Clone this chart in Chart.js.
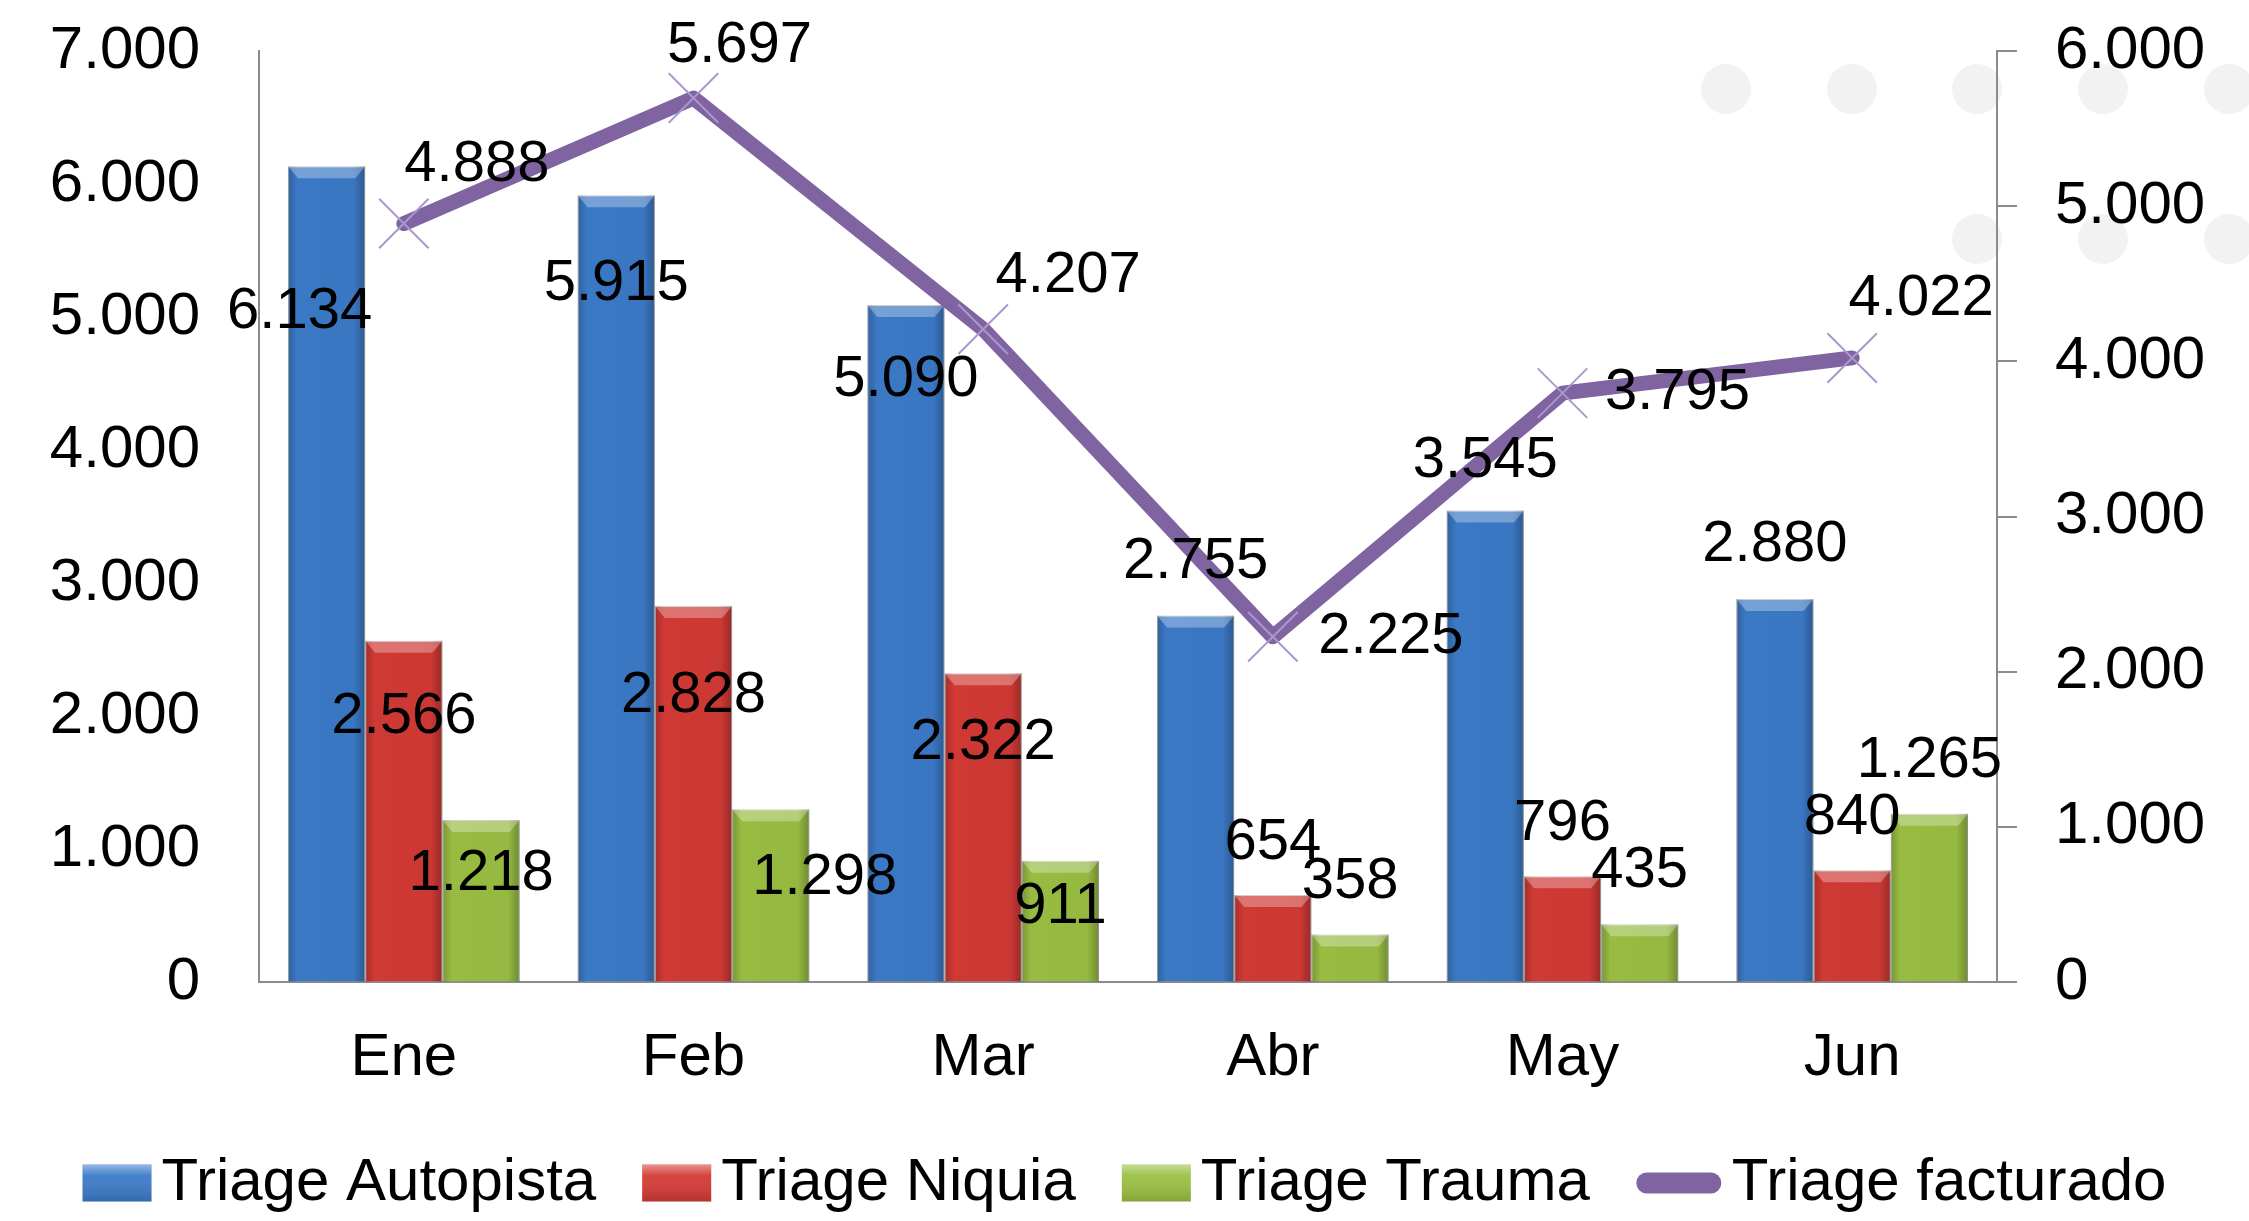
<!DOCTYPE html>
<html>
<head>
<meta charset="utf-8">
<script src="https://cdn.jsdelivr.net/npm/chart.js@4.4.0/dist/chart.umd.min.js"></script>
<style>
  body{margin:0;background:#fff;}
  #wrap{width:2249px;height:1221px;position:relative;}
</style>
</head>
<body>
<div id="wrap"><canvas id="chartCanvas"></canvas></div>
<script>
//data
const months=['Ene','Feb','Mar','Abr','May','Jun'];
const autopista=[6134,5915,5090,2755,3545,2880];
const niquia=[2566,2828,2322,654,796,840];
const trauma=[1218,1298,911,358,435,1265];
const facturado=[4888,5697,4207,2225,3795,4022];

const FONT="'Liberation Sans', Arial, sans-serif";

//number format 1.234
function fmt(v){
    return String(v).replace(/\B(?=(\d{3})+(?!\d))/g,'.');
}

//label offsets from the mark (px), per dataset
const labelShift=[
    [[-27,146],[0,89],[0,75],[0,-54],[0,-50],[0,-54]],
    [[0,76],[0,90],[0,70],[0,-52],[0,-52],[0,-52]],
    [[0,54],[54,69],[0,46],[0,-52],[0,-53],[0,-53]],
    [[73,-59],[46,-52],[85,-53],[118,0],[115,0],[69,-59]]
];

//faint dots in the background (decoration)
const bgDots={
    id:'bgDots',
    beforeDraw(chart){
        const ctx=chart.ctx;
        ctx.save();
        ctx.fillStyle='#f2f2f2';
        const pts=[[1726,89],[1852,89],[1977,89],[2103,89],[2229,89],[1977,239],[2103,239],[2229,239]];
        pts.forEach(p=>{
            ctx.beginPath();
            ctx.ellipse(p[0],p[1],25,25,0,0,Math.PI*2);
            ctx.fill();
        });
        ctx.restore();
    }
};

//shading on the bars
const barShade={
    id:'barShade',
    afterDatasetDraw(chart,args){
        const meta=args.meta;
        if(meta.type!=='bar')return;
        const ctx=chart.ctx;
        ctx.save();
        meta.data.forEach(el=>{
            const p=el.getProps(['x','y','base','width'],true);
            const l=p.x-p.width/2, r=p.x+p.width/2;
            const g=ctx.createLinearGradient(l,0,r,0);
            g.addColorStop(0,'rgba(0,0,0,0.22)');
            g.addColorStop(0.12,'rgba(0,0,0,0.02)');
            g.addColorStop(0.85,'rgba(0,0,0,0.04)');
            g.addColorStop(1,'rgba(0,0,0,0.28)');
            ctx.fillStyle=g;
            ctx.fillRect(l,p.y,p.width,p.base-p.y);
            //top bevel
            const h=Math.min(12,(p.base-p.y)/2);
            ctx.fillStyle='rgba(255,255,255,0.3)';
            ctx.beginPath();
            ctx.moveTo(l,p.y);
            ctx.lineTo(r,p.y);
            ctx.lineTo(r-10,p.y+h);
            ctx.lineTo(l+10,p.y+h);
            ctx.closePath();
            ctx.fill();
        });
        ctx.restore();
    }
};

//value labels
const valueLabels={
    id:'valueLabels',
    afterDatasetsDraw(chart){
        const ctx=chart.ctx;
        ctx.save();
        ctx.font='58px '+FONT;
        ctx.fillStyle='#000';
        ctx.textAlign='center';
        ctx.textBaseline='middle';
        chart.data.datasets.forEach((ds,di)=>{
            const meta=chart.getDatasetMeta(di);
            meta.data.forEach((el,i)=>{
                const s=labelShift[di][i];
                ctx.fillText(fmt(ds.data[i]),el.x+s[0],el.y+s[1]);
            });
        });
        ctx.restore();
    }
};

//legend drawn by hand
const bottomLegend={
    id:'bottomLegend',
    afterDraw(chart){
        const ctx=chart.ctx;
        ctx.save();
        ctx.font='60px '+FONT;
        ctx.textBaseline='middle';
        const boxW=69, boxH=37, gap=10, space=46;
        const items=chart.data.datasets.map(ds=>({
            text:ds.label,
            color:ds.legendColor,
            line:ds.type==='line',
            w:(ds.type==='line'?86:boxW)+gap+ctx.measureText(ds.label).width
        }));
        let total=items.reduce((a,b)=>a+b.w,0)+space*(items.length-1);
        let x=(chart.width-total)/2;
        const cy=1183;
        items.forEach(it=>{
            if(it.line){
                ctx.strokeStyle=it.color;
                ctx.lineWidth=21;
                ctx.lineCap='round';
                ctx.beginPath();
                ctx.moveTo(x+11,cy);
                ctx.lineTo(x+75,cy);
                ctx.stroke();
                x+=86;
            }else{
                const g=ctx.createLinearGradient(0,cy-boxH/2,0,cy+boxH/2);
                g.addColorStop(0,'rgba(255,255,255,0.45)');
                g.addColorStop(0.3,'rgba(255,255,255,0.05)');
                g.addColorStop(1,'rgba(0,0,0,0.15)');
                ctx.fillStyle=it.color;
                ctx.fillRect(x,cy-boxH/2,boxW,boxH);
                ctx.fillStyle=g;
                ctx.fillRect(x,cy-boxH/2,boxW,boxH);
                x+=boxW;
            }
            x+=gap;
            ctx.fillStyle='#000';
            ctx.textAlign='left';
            ctx.fillText(it.text,x,cy);
            x+=ctx.measureText(it.text).width+space;
        });
        ctx.restore();
    }
};

const data={
    labels:months,
    datasets:[
        {type:'bar',label:'Triage Autopista',data:autopista,backgroundColor:'#3c7bc9',legendColor:'#3c7bc9',borderColor:'rgba(90,90,90,0.35)',borderWidth:1,yAxisID:'y',order:1},
        {type:'bar',label:'Triage Niquia',data:niquia,backgroundColor:'#d43a35',legendColor:'#d43a35',borderColor:'rgba(90,90,90,0.35)',borderWidth:1,yAxisID:'y',order:1},
        {type:'bar',label:'Triage Trauma',data:trauma,backgroundColor:'#9bc043',legendColor:'#9bc043',borderColor:'rgba(90,90,90,0.35)',borderWidth:1,yAxisID:'y',order:1},
        {type:'line',label:'Triage facturado',data:facturado,borderColor:'#8064a2',legendColor:'#8064a2',borderWidth:15,
            borderCapStyle:'round',borderJoinStyle:'round',tension:0,
            pointStyle:'crossRot',pointRadius:35,pointBorderColor:'#a898cc',pointBorderWidth:2,pointBackgroundColor:'#a898cc',
            yAxisID:'y1',order:0}
    ]
};

const config={
    type:'bar',
    data:data,
    plugins:[bgDots,barShade,valueLabels,bottomLegend],
    options:{
        responsive:true,
        maintainAspectRatio:false,
        animation:false,
        layout:{padding:{top:51,bottom:130,left:0,right:0}},
        datasets:{bar:{categoryPercentage:0.8,barPercentage:1.0}},
        plugins:{
            legend:{display:false},
            tooltip:{enabled:false}
        },
        scales:{
            x:{
                grid:{display:false,drawTicks:false},
                border:{display:true,color:'#8c8c8c',width:2},
                ticks:{color:'#000',font:{size:60,family:FONT},padding:40},
                afterFit(s){s.height=109;}
            },
            y:{
                position:'left',
                min:0,max:7000,
                //invisible ticks keep the labels away from the axis
                grid:{drawOnChartArea:false,drawTicks:true,tickLength:47,tickColor:'rgba(0,0,0,0)'},
                border:{display:true,color:'#8c8c8c',width:2},
                ticks:{stepSize:1000,color:'#000',font:{size:60,family:FONT},padding:12,callback:v=>fmt(v)},
                afterFit(s){s.width=259;}
            },
            y1:{
                position:'right',
                min:0,max:6000,
                grid:{drawOnChartArea:false,drawTicks:true,tickLength:46,color:'#8c8c8c',lineWidth:2,tickBorderDash:[19,200]},
                border:{display:true,color:'#8c8c8c',width:2},
                ticks:{stepSize:1000,color:'#000',font:{size:60,family:FONT},padding:12,callback:v=>fmt(v)},
                afterFit(s){s.width=252;}
            }
        }
    }
};

const myChart=new Chart(document.getElementById('chartCanvas'),config);
</script>
</body>
</html>
